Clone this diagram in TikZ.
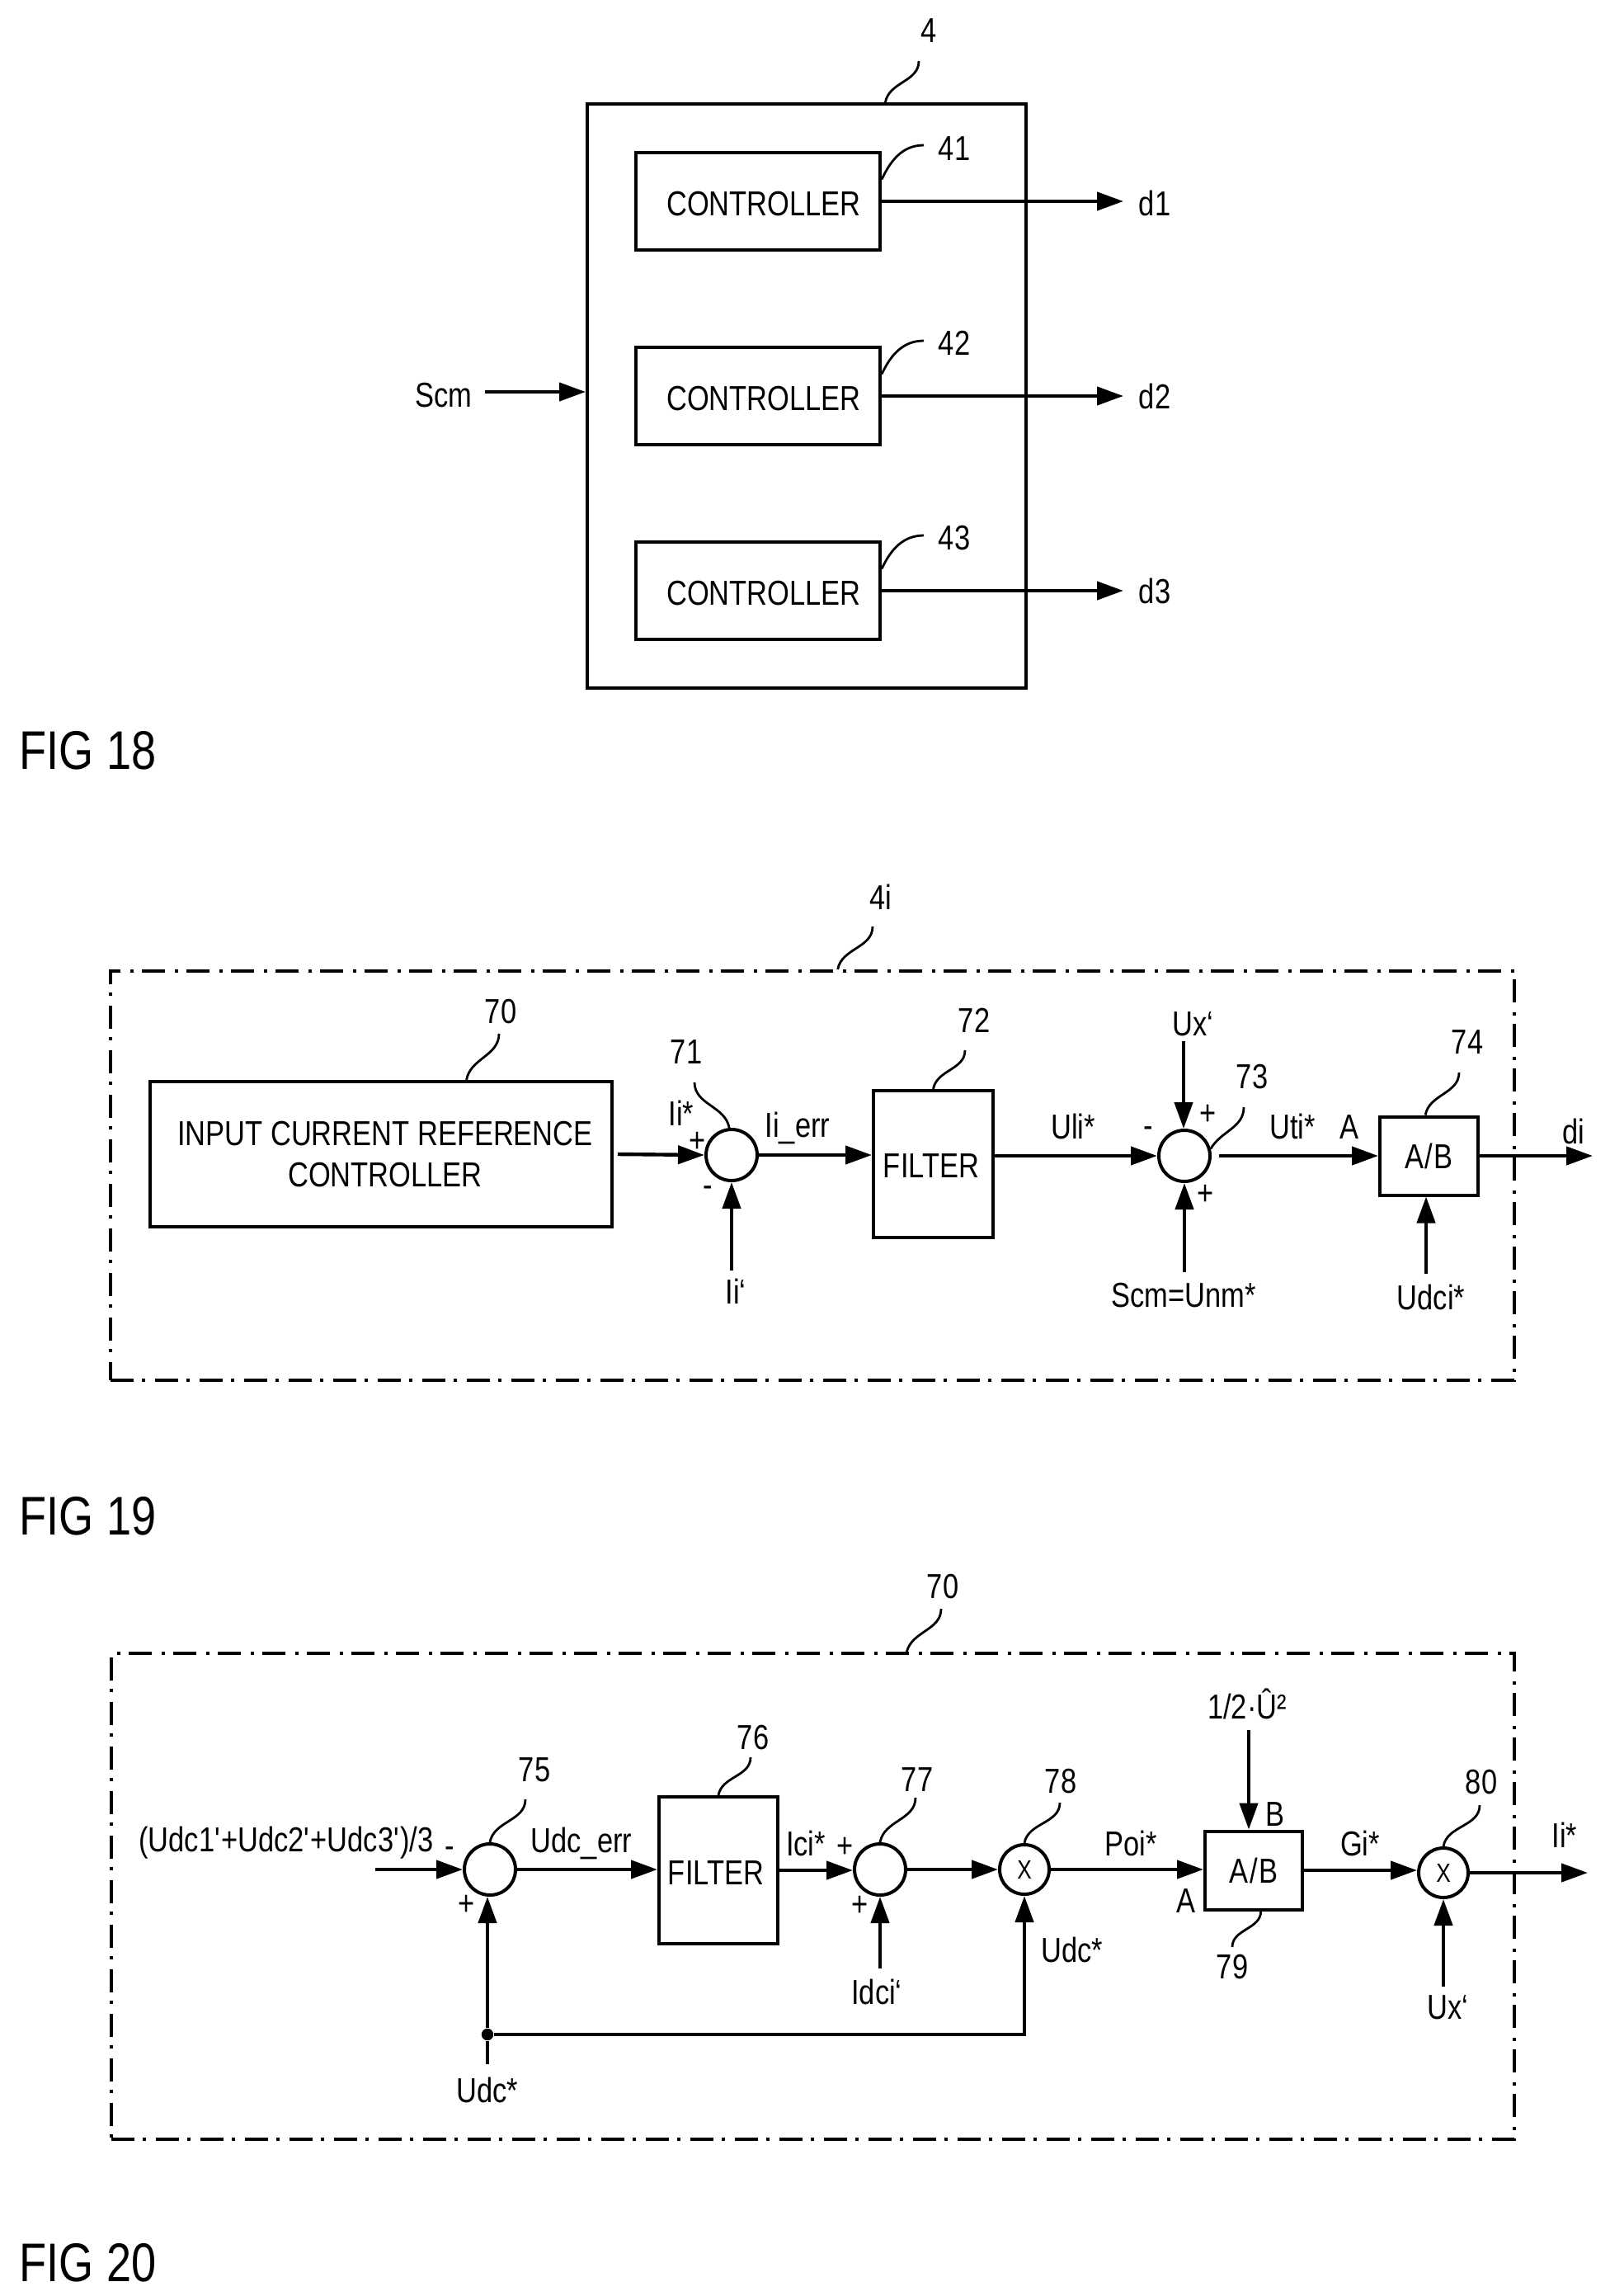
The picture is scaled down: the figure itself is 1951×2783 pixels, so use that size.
\documentclass[tikz,border=0pt]{standalone}
\usepackage{fontspec}
\setmainfont[FakeStretch=0.82]{Liberation Sans}
\usetikzlibrary{arrows.meta}
\usetikzlibrary{positioning}

\tikzset{
  block/.style={draw,line width=1pt,inner sep=0pt,align=center},
  sumnode/.style={draw,circle,line width=1pt,inner sep=0pt,minimum size=15.5pt},
  mulnode/.style={sumnode,minimum size=15pt,font=\fontsize{8}{10}\selectfont},
  lab/.style={inner sep=0pt},
  figlab/.style={inner sep=0pt,anchor=west,font=\fontsize{16.5}{20}\selectfont},
  frame/.style={draw,line width=1pt,inner sep=0pt,dash pattern=on 7pt off 2.5pt on 1pt off 3pt},
  sig/.style={line width=1.1pt,-{Triangle[length=8pt,width=5.5pt]}},
  wire/.style={line width=1.1pt},
  leader/.style={line width=.7pt},
  junction/.style={fill,circle,inner sep=0pt,minimum size=3.6pt}
}

\begin{document}
\begin{tikzpicture}[x=.25pt,y=-.25pt,every node/.style={font=\fontsize{10.5}{12.5}\selectfont}]

  \useasboundingbox (0,0) rectangle (1951,2783);

  \begin{scope}

    \node[block,minimum width=133pt,minimum height=177pt] (ctrl) at (978,480) {};
    \node[lab] (ref4) at (1126,37) {4};
    \draw[leader] ([shift={(-12,37)}]ref4.center) to[out=-90,in=80] (ctrl.75);

    \def \y {244}
    \node[block,minimum width=74pt,minimum height=29.5pt] (c41) at (919,\y) {};
    \node[lab] (c41txt) at (926,247) {CONTROLLER};
    \node[lab] (ref41) at (1157,180) {41};
    \node[lab] (d1) at (1400,246) {d1};
    \coordinate (d1end) at (1362,\y);
    \draw[sig] (c41.east) -- (d1end);
    \draw[leader] ([shift={(-37,-4)}]ref41.center) to[out=180,in=65] (c41.10);

    \def \y {480}
    \node[block,minimum width=74pt,minimum height=29.5pt] (c42) at (919,\y) {};
    \node[lab] (c42txt) at (926,483) {CONTROLLER};
    \node[lab] (ref42) at (1157,416) {42};
    \node[lab] (d2) at (1400,480) {d2};
    \coordinate (d2end) at (1362,\y);
    \draw[sig] (c42.east) -- (d2end);
    \draw[leader] ([shift={(-37,-3)}]ref42.center) to[out=180,in=65] (c42.10);

    \def \y {716}
    \node[block,minimum width=74pt,minimum height=29.5pt] (c43) at (919,\y) {};
    \node[lab] (c43txt) at (926,719) {CONTROLLER};
    \node[lab] (ref43) at (1157,652) {43};
    \node[lab] (d3) at (1400,716) {d3};
    \coordinate (d3end) at (1362,\y);
    \draw[sig] (c43.east) -- (d3end);
    \draw[leader] ([shift={(-37,-3)}]ref43.center) to[out=180,in=65] (c43.10);

    \node[lab] (scm) at (538,479) {Scm};
    \coordinate (scmin) at (588,475);
    \draw[sig] (scmin) -- (scmin -| ctrl.west);

    \node[figlab] (fig18) at (23,910) {FIG 18};

  \end{scope}


  \begin{scope}

    \node[frame,minimum width=425.5pt,minimum height=124pt] (frame19) at (985,1425) {};
    \node[lab] (ref4i) at (1068,1087) {4i};
    \draw[leader] ([shift={(-10,36)}]ref4i.center) to[out=-90,in=80] (frame19.83);

    \node[block,minimum width=140pt,minimum height=44pt] (refctrl) at (462,1399) {\hspace{2.5pt}INPUT CURRENT REFERENCE\\\hspace{2.5pt}CONTROLLER};
    \node[lab] (ref70) at (607,1226) {70};
    \draw[leader] ([shift={(-2,27)}]ref70.center) to[out=-90,in=80] (refctrl.41);

    \node[sumnode] (sum71) at (887,1400) {};
    \node[lab] (ref71) at (832,1275) {71};
    \node[lab] (isetp) at (826,1349) {Ii*};
    \node[lab] (p71) at (846,1384) {+};
    \node[lab] (m71) at (858,1444) {-};
    \node[lab] (ifb) at (892,1565) {Ii‘};
    \coordinate (ifbin) at (887,1540);
    \draw[sig] ([xshift=1.25pt]refctrl.east) -- (sum71.west);
    \draw[sig] (ifbin) -- (sum71.south);
    \draw[leader] ([shift={(10,37)}]ref71.center) to[out=-90,in=100] (sum71.95);

    \node[block,minimum width=36.25pt,minimum height=44.5pt] (filt72) at (1131.5,1411) {};
    \node[lab] (filt72txt) at (1129,1413) {FILTER};
    \node[lab] (ref72) at (1181,1237) {72};
    \node[lab] (ierr) at (967,1367) {Ii\_err};
    \draw[sig] (sum71.east) -- (sum71.east -| filt72.west);
    \draw[leader] ([shift={(-11,36)}]ref72.center) to[out=-90,in=80] (filt72.north);

    \node[sumnode] (sum73) at (1436,1401) {};
    \node[lab] (ref73) at (1518,1305) {73};
    \node[lab] (uli) at (1301,1365) {Uli*};
    \node[lab] (m73) at (1392,1372) {-};
    \node[lab] (pu73) at (1465,1351) {+};
    \node[lab] (pd73) at (1462,1448) {+};
    \node[lab] (uxa) at (1446,1241) {Ux‘};
    \node[lab] (unm) at (1435,1570) {Scm=Unm*};
    \coordinate (uxin) at (1435,1262);
    \coordinate (unmin) at (1436,1542);
    \draw[sig] (filt72.east |- sum73.west) -- (sum73.west);
    \draw[sig] (uxin) -- (uxin |- sum73.north);
    \draw[sig] (unmin) -- (sum73.south);
    \draw[leader] ([shift={(-10,37)}]ref73.center) to[out=-90,in=60] (sum73.15);

    \node[block,minimum width=29.75pt,minimum height=23.75pt] (div74) at (1732.5,1401) {A\kern.4pt/\kern.4pt B};
    \node[lab] (ref74) at (1779,1263) {74};
    \node[lab] (uti) at (1567,1365) {Uti*};
    \node[lab] (a74) at (1636,1366) {A};
    \node[lab] (di) at (1908,1371) {di};
    \node[lab] (udci) at (1735,1572) {Udci*};
    \coordinate (udciin) at (1729,1544);
    \coordinate (diend) at (1931,1401);
    \draw[sig] ([xshift=2.25pt]sum73.east) -- (div74.west);
    \draw[sig] (udciin) -- (udciin |- div74.south);
    \draw[sig] (div74.east) -- (diend);
    \draw[leader] ([shift={(-10,37)}]ref74.center) to[out=-90,in=80] (div74.95);

    \node[figlab] (fig19) at (23,1838) {FIG 19};

  \end{scope}


  \begin{scope}

    \node[frame,minimum width=425.25pt,minimum height=147.25pt] (frame20) at (985.5,2298.5) {};
    \node[lab] (ref70b) at (1143,1923) {70};
    \draw[leader] ([shift={(-2,27)}]ref70b.center) to[out=-90,in=75] (frame20.69);

    \node[sumnode] (sum75) at (594,2266) {};
    \node[lab] (ref75) at (648,2145) {75};
    \node[lab] (uavg) at (347,2234) {(Udc1\textquotesingle+Udc2\textquotesingle+Udc3\textquotesingle)/3};
    \node[lab] (m75) at (545,2245) {-};
    \node[lab] (p75) at (566,2309) {+};
    \node[lab] (udcb) at (591,2533) {Udc*};
    \coordinate (uavgin) at (455,2266);
    \coordinate (udcin) at (591,2502);
    \node[junction] (junc) at (591,2466) {};
    \draw[sig] (uavgin) -- (sum75.west);
    \draw[wire] (udcin) -- (junc);
    \draw[sig] (junc) -- (junc |- sum75.south);
    \draw[leader] ([shift={(-11,36)}]ref75.center) to[out=-90,in=80] (sum75.north);

    \node[block,minimum width=36pt,minimum height=44.5pt] (filt76) at (871,2267) {};
    \node[lab] (filt76txt) at (868,2270) {FILTER};
    \node[lab] (ref76) at (913,2106) {76};
    \node[lab] (uerr) at (705,2234) {Udc\_err};
    \draw[sig] (sum75.east) -- (sum75.east -| filt76.west);
    \draw[leader] ([shift={(-3,24)}]ref76.center) to[out=-90,in=80] (filt76.north);

    \node[sumnode] (sum77) at (1067,2266) {};
    \node[lab] (ref77) at (1112,2157) {77};
    \node[lab] (ici) at (977,2234) {Ici*};
    \node[lab] (pu77) at (1025,2239) {+};
    \node[lab] (pd77) at (1043,2310) {+};
    \node[lab] (idci) at (1063,2414) {Idci‘};
    \coordinate (idciin) at (1067,2386);
    \draw[sig] (filt76.east) -- (filt76.east -| sum77.west);
    \draw[sig] (idciin) -- (sum77.south);
    \draw[leader] ([shift={(-2,22)}]ref77.center) to[out=-90,in=80] (sum77.north);

    \node[mulnode] (sum78) at (1242,2266) {X};
    \node[lab] (ref78) at (1286,2159) {78};
    \node[lab] (udcr) at (1300,2363) {Udc*};
    \draw[sig] (sum77.east) -- (sum78.west);
    \draw[sig] (junc) -| (sum78.south);
    \draw[leader] ([shift={(-1,26)}]ref78.center) to[out=-90,in=80] (sum78.north);

    \node[block,minimum width=29.5pt,minimum height=23.75pt] (div79) at (1520,2267) {A\kern.4pt/\kern.4pt B};
    \node[lab] (ref79) at (1494,2384) {79};
    \node[lab] (poi) at (1371,2234) {Poi*};
    \node[lab] (a79) at (1438,2304) {A};
    \node[lab] (b79) at (1546,2199) {B};
    \node[lab] (uhat) at (1512,2065) {1/2·Û²};
    \coordinate (uhatin) at (1514,2097);
    \draw[sig] (sum78.east) -- (sum78.east -| div79.west);
    \draw[sig] (uhatin) -- (uhatin |- div79.north);
    \draw[leader] (div79.-80) to[out=-90,in=90] ([shift={(0,-24)}]ref79.center);

    \node[mulnode] (sum80) at (1750,2270) {X};
    \node[lab] (ref80) at (1796,2160) {80};
    \node[lab] (gi) at (1649,2234) {Gi*};
    \node[lab] (iout) at (1897,2224) {Ii*};
    \node[lab] (uxb) at (1755,2433) {Ux‘};
    \coordinate (uxbin) at (1750,2408);
    \coordinate (ioutend) at (1925,2270);
    \draw[sig] (div79.east) -- (div79.east -| sum80.west);
    \draw[sig] (uxbin) -- (sum80.south);
    \draw[sig] (sum80.east) -- (ioutend);
    \draw[leader] ([shift={(-2,28)}]ref80.center) to[out=-90,in=80] (sum80.north);

    \node[figlab] (fig20) at (23,2743) {FIG 20};

  \end{scope}

\end{tikzpicture}
\end{document}
